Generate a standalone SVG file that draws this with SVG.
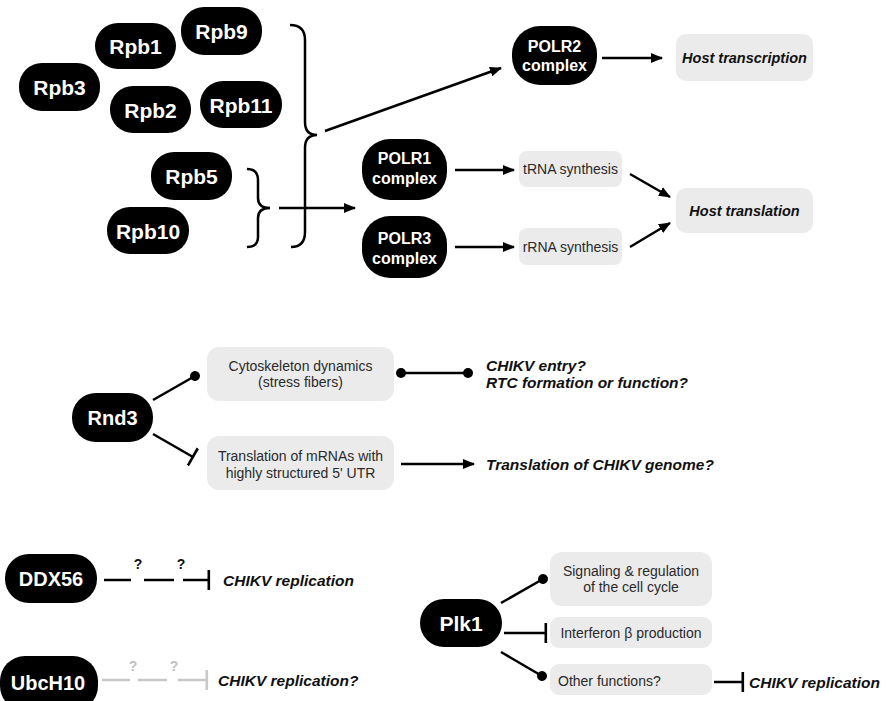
<svg xmlns="http://www.w3.org/2000/svg" width="886" height="701" viewBox="0 0 886 701">
<style>
.pill{fill:#000}
.pt{fill:#fff;font-family:"Liberation Sans",Arial,sans-serif;font-weight:bold;text-anchor:middle;dominant-baseline:central}
.box{fill:#ebebeb}
.bt{fill:#2a2a2a;font-family:"Liberation Sans",Arial,sans-serif;font-size:14px;text-anchor:middle;dominant-baseline:central}
.bl{fill:#2a2a2a;font-family:"Liberation Sans",Arial,sans-serif;font-size:14px;text-anchor:start;dominant-baseline:central}
.bi{fill:#111;font-family:"Liberation Sans",Arial,sans-serif;font-weight:bold;font-style:italic;dominant-baseline:central}
.bic{text-anchor:middle}
.ln{stroke:#000;stroke-width:2.5;fill:none}
.gl{stroke:#c8c8c8;stroke-width:2.5;fill:none}
.q{font-family:"Liberation Sans",Arial,sans-serif;font-weight:bold;font-size:14px;text-anchor:middle}
</style>
<defs>
<marker id="arr" markerUnits="userSpaceOnUse" markerWidth="12" markerHeight="10" refX="11" refY="5" orient="auto"><path d="M0,0 L12,5 L0,10 z" fill="#000"/></marker>
<marker id="dot" markerUnits="userSpaceOnUse" markerWidth="12" markerHeight="12" refX="6" refY="6" orient="auto"><circle cx="6" cy="6" r="5" fill="#000"/></marker>
<marker id="tbar" markerUnits="userSpaceOnUse" markerWidth="4" markerHeight="20" refX="2" refY="10" orient="auto"><rect x="0.5" y="0" width="2.6" height="20" fill="#000"/></marker>
<marker id="tbarg" markerUnits="userSpaceOnUse" markerWidth="4" markerHeight="20" refX="2" refY="10" orient="auto"><rect x="0.5" y="0" width="2.6" height="20" fill="#c8c8c8"/></marker>
</defs>

<g id="connectors">
<path class="ln" stroke-width="3.5" d="M290,25 Q305,25 305,40 L305,122 Q305,135 317,135 Q305,135 305,148 L305,232 Q305,247 291,247"/>
<path class="ln" stroke-width="3" d="M247,169 Q258,169 258,180 L258,198 Q258,208 270,208 Q258,208 258,218 L258,237 Q258,247 247,247"/>
<line class="ln" x1="279" y1="208" x2="355" y2="208" marker-end="url(#arr)"/>
<line class="ln" x1="325" y1="131" x2="501" y2="68" marker-end="url(#arr)"/>
<line class="ln" x1="602" y1="58" x2="662" y2="58" marker-end="url(#arr)"/>
<line class="ln" x1="455" y1="170" x2="514" y2="170" marker-end="url(#arr)"/>
<line class="ln" x1="455" y1="247" x2="514" y2="247" marker-end="url(#arr)"/>
<line class="ln" x1="630" y1="174" x2="670" y2="197" marker-end="url(#arr)"/>
<line class="ln" x1="630" y1="247" x2="670" y2="223" marker-end="url(#arr)"/>

<line class="ln" x1="153" y1="400" x2="195" y2="376" marker-end="url(#dot)"/>
<line class="ln" x1="153" y1="434" x2="193" y2="457" marker-end="url(#tbar)"/>
<line class="ln" x1="401" y1="373" x2="468" y2="373" marker-start="url(#dot)" marker-end="url(#dot)"/>
<line class="ln" x1="401" y1="464" x2="474" y2="464" marker-end="url(#arr)"/>

<line class="ln" x1="104" y1="580" x2="131" y2="580"/>
<line class="ln" x1="144" y1="580" x2="174" y2="580"/>
<line class="ln" x1="183" y1="580" x2="209" y2="580" marker-end="url(#tbar)"/>
<line class="gl" x1="102" y1="680" x2="130" y2="680"/>
<line class="gl" x1="138" y1="680" x2="167" y2="680"/>
<line class="gl" x1="178" y1="680" x2="207" y2="680" marker-end="url(#tbarg)"/>

<line class="ln" x1="501" y1="603" x2="543" y2="579" marker-end="url(#dot)"/>
<line class="ln" x1="504" y1="633" x2="546" y2="633" marker-end="url(#tbar)"/>
<line class="ln" x1="501" y1="652" x2="542" y2="676" marker-end="url(#dot)"/>
<line class="ln" x1="714" y1="682" x2="743" y2="682" marker-end="url(#tbar)"/>
</g>

<g id="rpb9"><rect class="pill" x="181" y="7" width="81" height="48" rx="23"/><text class="pt" x="221.5" y="31" font-size="21">Rpb9</text></g>
<g id="rpb1"><rect class="pill" x="95" y="23" width="81" height="46" rx="23"/><text class="pt" x="135.5" y="46" font-size="21">Rpb1</text></g>
<g id="rpb3"><rect class="pill" x="19" y="63" width="81" height="48" rx="23"/><text class="pt" x="59.5" y="87" font-size="21">Rpb3</text></g>
<g id="rpb2"><rect class="pill" x="110" y="86" width="81" height="47" rx="23"/><text class="pt" x="150.5" y="110" font-size="21">Rpb2</text></g>
<g id="rpb11"><rect class="pill" x="200" y="81" width="82" height="47" rx="23"/><text class="pt" x="241" y="105" font-size="21">Rpb11</text></g>
<g id="rpb5"><rect class="pill" x="151" y="152" width="81" height="48" rx="23"/><text class="pt" x="191.5" y="176" font-size="21">Rpb5</text></g>
<g id="rpb10"><rect class="pill" x="107" y="207" width="82" height="47" rx="23"/><text class="pt" x="148" y="231" font-size="21">Rpb10</text></g>

<g id="polr2"><rect class="pill" x="512" y="26" width="85" height="59" rx="28"/><text class="pt" x="554.5" y="46" font-size="16">POLR2</text><text class="pt" x="554.5" y="65" font-size="16">complex</text></g>
<g id="polr1"><rect class="pill" x="362" y="139" width="85" height="61" rx="28"/><text class="pt" x="404.5" y="158" font-size="16">POLR1</text><text class="pt" x="404.5" y="178" font-size="16">complex</text></g>
<g id="polr3"><rect class="pill" x="362" y="216" width="85" height="62" rx="28"/><text class="pt" x="404.5" y="238" font-size="16">POLR3</text><text class="pt" x="404.5" y="258" font-size="16">complex</text></g>

<g id="host-transcription"><rect class="box" x="676" y="34" width="137" height="47" rx="10"/><text class="bi bic" x="744.5" y="58" font-size="14.5">Host transcription</text></g>
<g id="trna"><rect class="box" x="519" y="151" width="103" height="36" rx="8"/><text class="bt" x="570.5" y="169" font-size="13">tRNA synthesis</text></g>
<g id="rrna"><rect class="box" x="519" y="228" width="103" height="37" rx="8"/><text class="bt" x="570.5" y="247" font-size="13">rRNA synthesis</text></g>
<g id="host-translation"><rect class="box" x="676" y="188" width="137" height="45" rx="10"/><text class="bi bic" x="744.5" y="211" font-size="14.5">Host translation</text></g>

<g id="rnd3"><rect class="pill" x="72" y="393" width="81" height="49" rx="24"/><text class="pt" x="112.5" y="418" font-size="20">Rnd3</text></g>
<g id="cytoskeleton"><rect class="box" x="207" y="347" width="187" height="54" rx="12"/><text class="bt" x="300.5" y="366">Cytoskeleton dynamics</text><text class="bt" x="300.5" y="382">(stress fibers)</text></g>
<g id="translation-mrna"><rect class="box" x="207" y="436" width="187" height="54" rx="12"/><text class="bt" x="300.5" y="456">Translation of mRNAs with</text><text class="bt" x="300.5" y="473">highly structured 5' UTR</text></g>
<g id="chikv-entry"><text class="bi" x="486" y="365" font-size="15.5">CHIKV entry?</text><text class="bi" x="486" y="382" font-size="15.5">RTC formation or function?</text></g>
<g id="chikv-genome"><text class="bi" x="486" y="464" font-size="15.5">Translation of CHIKV genome?</text></g>

<g id="ddx56"><rect class="pill" x="5" y="554" width="92" height="49" rx="24"/><text class="pt" x="51" y="579" font-size="20">DDX56</text><text class="q" x="138" y="569" fill="#111">?</text><text class="q" x="181" y="569" fill="#111">?</text><text class="bi" x="223" y="580" font-size="15.5">CHIKV replication</text></g>
<g id="ubch10"><rect class="pill" x="0" y="656" width="98" height="55" rx="25"/><text class="pt" x="48" y="683" font-size="20">UbcH10</text><text class="q" x="133" y="671" fill="#c0c0c0">?</text><text class="q" x="174" y="671" fill="#c0c0c0">?</text><text class="bi" x="218" y="680" font-size="15.5">CHIKV replication?</text></g>

<g id="plk1"><rect class="pill" x="420" y="599" width="82" height="48" rx="24"/><text class="pt" x="461" y="623" font-size="21">Plk1</text></g>
<g id="signaling"><rect class="box" x="550" y="552" width="162" height="54" rx="12"/><text class="bt" x="631" y="571">Signaling &amp; regulation</text><text class="bt" x="631" y="587">of the cell cycle</text></g>
<g id="interferon"><rect class="box" x="550" y="617" width="162" height="31" rx="9"/><text class="bt" x="631" y="633">Interferon β production</text></g>
<g id="other"><rect class="box" x="550" y="664" width="162" height="31" rx="9"/><text class="bl" x="558" y="681">Other functions?</text></g>
<g id="chikv-rep-plk1"><text class="bi" x="749" y="682" font-size="15.5">CHIKV replication</text></g>
</svg>
